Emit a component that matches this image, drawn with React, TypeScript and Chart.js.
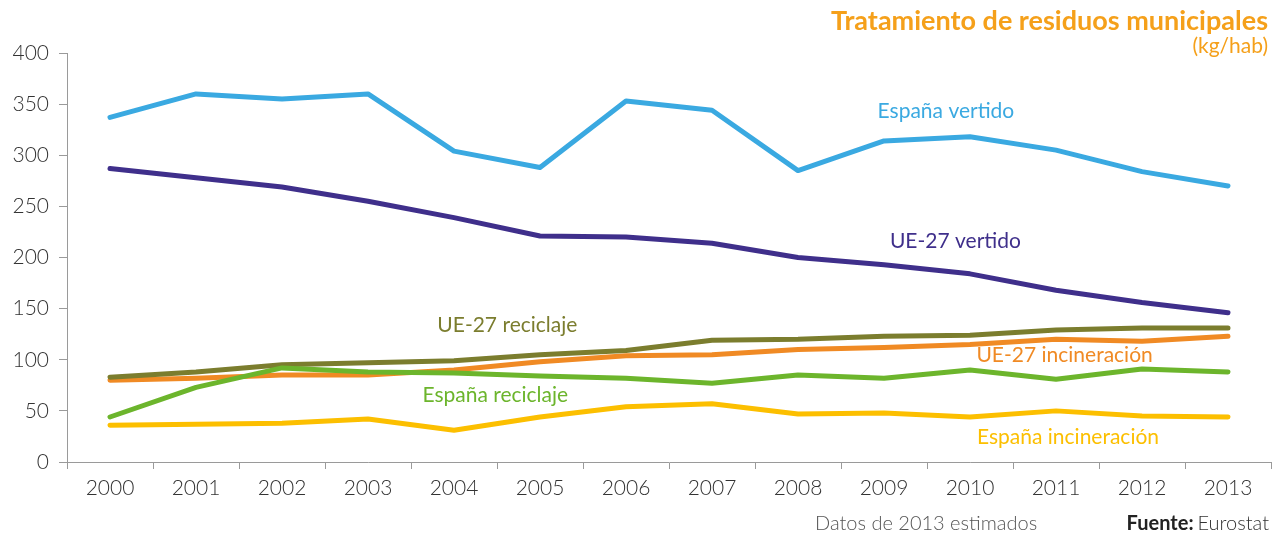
import React, { useEffect, useRef } from "react";
import { Chart, registerables } from "chart.js";

Chart.register(...registerables);

const years = ["2000", "2001", "2002", "2003", "2004", "2005", "2006", "2007", "2008", "2009", "2010", "2011", "2012", "2013"];
const espanaVertido = [337, 360, 355, 360, 304, 288, 353, 344, 285, 314, 318, 305, 284, 270];
const ueVertido = [287, 278, 269, 255, 239, 221, 220, 214, 200, 193, 184, 168, 156, 146];
const ueReciclaje = [83, 88, 95, 97, 99, 105, 109, 119, 120, 123, 124, 129, 131, 131];
const ueIncineracion = [80, 82, 85, 85, 90, 98, 104, 105, 110, 112, 115, 120, 118, 123];
const espanaReciclaje = [44, 73, 92, 88, 87, 84, 82, 77, 85, 82, 90, 81, 91, 88];
const espanaIncineracion = [36, 37, 38, 42, 31, 44, 54, 57, 47, 48, 44, 50, 45, 44];

const seriesNames = ["España vertido", "UE-27 vertido", "UE-27 reciclaje", "UE-27 incineración", "España reciclaje", "España incineración"];
const seriesColors = ["#3aa9e1", "#3f2f8b", "#7b7d2e", "#f08a24", "#6cb52c", "#fcbf00"];
const seriesOrder = [5, 4, 2, 3, 1, 0];
// label anchors: category index (fractional) and value
const labelIndex = [9.72, 9.83, 4.62, 11.1, 4.48, 11.14];
const labelValue = [343, 216, 134, 104, 65, 24];

const yTicks = [0, 50, 100, 150, 200, 250, 300, 350, 400];

const FONT = "Lato, 'Open Sans', sans-serif";

export default function App() {
  const ref = useRef<HTMLCanvasElement | null>(null);
  useEffect(() => {
    const seriesData = [espanaVertido, ueVertido, ueReciclaje, ueIncineracion, espanaReciclaje, espanaIncineracion];
    const textPlugin = {
      id: "texts",
      afterDatasetsDraw(chart: any) {
        const ctx = chart.ctx;
        const xs = chart.scales.x;
        const ys = chart.scales.y;
        ctx.save();
        ctx.textBaseline = "middle";
        ctx.textAlign = "center";
        ctx.font = `400 21px ${FONT}`;
        for (let i = 0; i < seriesNames.length; i++) {
          const x0 = xs.getPixelForValue(Math.floor(labelIndex[i]));
          const x1 = xs.getPixelForValue(Math.floor(labelIndex[i]) + 1);
          const px = x0 + (x1 - x0) * (labelIndex[i] - Math.floor(labelIndex[i]));
          const py = ys.getPixelForValue(labelValue[i]);
          ctx.fillStyle = seriesColors[i];
          ctx.fillText(seriesNames[i], px, py);
        }
        // title
        ctx.textAlign = "right";
        ctx.textBaseline = "alphabetic";
        ctx.fillStyle = "#f5a01a";
        ctx.font = `700 27px ${FONT}`;
        ctx.fillText("Tratamiento de residuos municipales", 1268, 30);
        ctx.font = `400 21px ${FONT}`;
        ctx.fillText("(kg/hab)", 1268, 53);
        // footer
        ctx.fillStyle = "#555";
        ctx.font = `300 20px ${FONT}`;
        ctx.textAlign = "left";
        ctx.fillText("Datos de 2013 estimados", 815, 530);
        ctx.textAlign = "right";
        ctx.fillStyle = "#333";
        ctx.font = `300 20px ${FONT}`;
        const eu = "Eurostat";
        ctx.fillText(eu, 1269, 530);
        const w = ctx.measureText(eu).width;
        ctx.font = `700 20px ${FONT}`;
        ctx.fillStyle = "#222";
        ctx.fillText("Fuente:", 1269 - w - 4, 530);
        ctx.restore();
      },
    };
    const chart = new Chart(ref.current as HTMLCanvasElement, {
      type: "line",
      data: {
        labels: years,
        datasets: seriesData.map((d, i) => ({
          label: seriesNames[i],
          data: d,
          borderColor: seriesColors[i],
          backgroundColor: seriesColors[i],
          borderWidth: 5,
          pointRadius: 0,
          tension: 0,
          borderCapStyle: "round" as const,
          borderJoinStyle: "round" as const,
          order: seriesOrder[i],
        })),
      },
      options: {
        animation: false,
        responsive: false,
        layout: { padding: { top: 53, right: 10, left: 0, bottom: 0 } },
        plugins: { legend: { display: false }, tooltip: { enabled: false }, title: { display: false } },
        scales: {
          x: {
            offset: true,
            grid: { display: true, drawOnChartArea: false, drawTicks: true, tickLength: 7, color: "#9a9a9a", offset: true },
            border: { display: true, color: "#9a9a9a", width: 1 },
            ticks: { color: "#333", font: { family: FONT, size: 21, weight: 300 as any }, padding: 7, maxRotation: 0, autoSkip: false },
            afterFit(scale: any) {
              scale.height = 74;
            },
          },
          y: {
            min: 0,
            max: 400,
            afterBuildTicks(scale: any) {
              scale.ticks = yTicks.map((v) => ({ value: v }));
            },
            grid: { display: true, drawOnChartArea: false, drawTicks: true, tickLength: 8, color: "#9a9a9a" },
            border: { display: true, color: "#9a9a9a", width: 1 },
            ticks: { color: "#333", font: { family: FONT, size: 21, weight: 300 as any }, padding: 10 },
            afterFit(scale: any) {
              scale.width = 67;
            },
          },
        },
      },
      plugins: [textPlugin],
    });
    return () => chart.destroy();
  }, []);
  return (
    <div style={{ position: "fixed", left: 0, top: 0, width: 1281, height: 536, background: "#fff" }}>
      <canvas ref={ref} width={1281} height={536} style={{ display: "block" }} />
    </div>
  );
}
